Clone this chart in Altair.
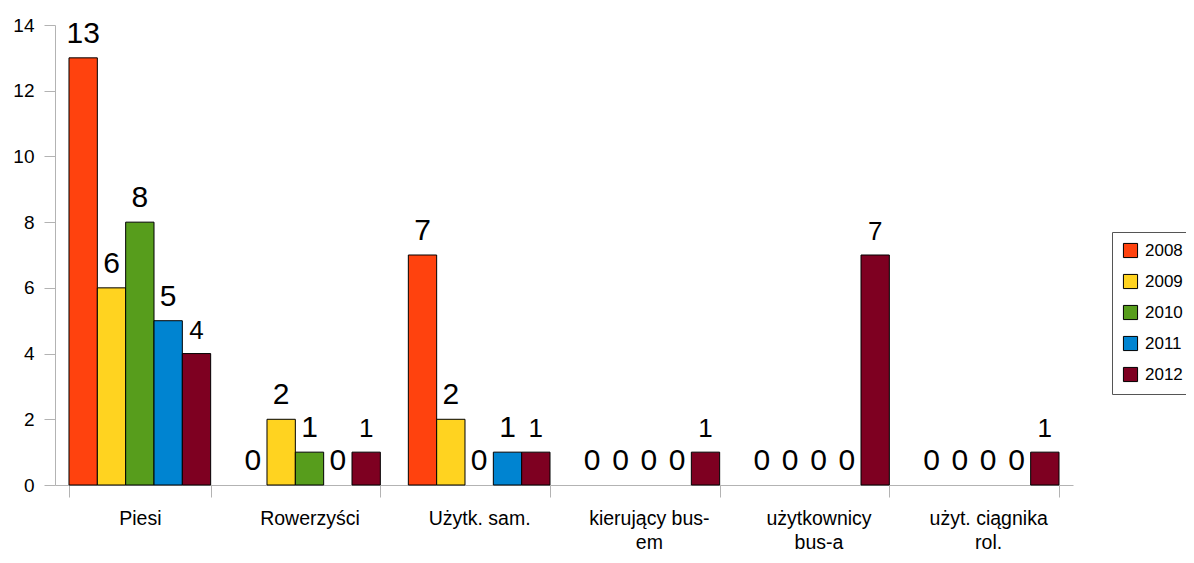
import altair as alt
import pandas as pd

categories = ["Piesi", "Rowerzyści", "Użytk. sam.", "kierujący bus-\nem",
              "użytkownicy\nbus-a", "użyt. ciągnika\nrol."]
years = ["2008", "2009", "2010", "2011", "2012"]
v2008 = [13, 0, 7, 0, 0, 0]
v2009 = [6, 2, 2, 0, 0, 0]
v2010 = [8, 1, 0, 0, 0, 0]
v2011 = [5, 0, 1, 0, 0, 0]
v2012 = [4, 1, 1, 1, 7, 1]
colors = ["#ff420e", "#ffd320", "#579d1c", "#0084d1", "#7e0021"]
y_ticks = [0, 2, 4, 6, 8, 10, 12, 14]

series = [v2008, v2009, v2010, v2011, v2012]
rows = []
for yi, yr in enumerate(years):
    for ci, cat in enumerate(categories):
        rows.append({"cat": cat, "year": yr, "value": series[yi][ci]})
df = pd.DataFrame(rows)

FONT = "Liberation Sans"

x_enc = alt.X(
    "cat:N", sort=categories, title=None,
    scale=alt.Scale(paddingInner=0.165, paddingOuter=0.0825),
    axis=alt.Axis(
        labelAngle=0, labelExpr="split(datum.label, '\\n')",
        labelFont=FONT, labelFontSize=19.5, labelColor="#000",
        labelLineHeight=24, labelPadding=12, labelBaseline="top",
        tickBand="extent", tickSize=12, tickColor="#b3b3b3",
        domainColor="#b3b3b3", grid=False,
    ),
)
xo_enc = alt.XOffset("year:N", sort=years,
                     scale=alt.Scale(domain=years, paddingInner=0, paddingOuter=0))
y_enc = alt.Y(
    "value:Q", title=None,
    scale=alt.Scale(domain=[0, 14], nice=False),
    axis=alt.Axis(
        values=y_ticks, labelFont=FONT, labelFontSize=19, labelColor="#000",
        labelPadding=10, tickSize=11, tickColor="#b3b3b3",
        domainColor="#b3b3b3", grid=False,
    ),
)

bars = alt.Chart(df).transform_filter(alt.datum.value > 0).mark_bar(
    stroke="#000", strokeWidth=1
).encode(
    x=x_enc, xOffset=xo_enc, y=y_enc,
    color=alt.Color(
        "year:N", sort=years,
        scale=alt.Scale(domain=years, range=colors),
        legend=alt.Legend(
            title=None, orient="none", legendX=1057, legendY=207,
            symbolType="square", symbolSize=200, symbolStrokeColor="#000",
            symbolStrokeWidth=1, labelFont=FONT, labelFontSize=17,
            labelColor="#000", labelOffset=6, rowPadding=12, padding=10,
            strokeColor="#555", fillColor="#fff",
        ),
    ),
)

labels = alt.Chart(df).mark_text(
    font=FONT, baseline="alphabetic", align="center", dy=-15, color="#000"
).encode(
    x=alt.X("cat:N", sort=categories),
    xOffset=alt.XOffset("year:N", sort=years),
    y=alt.Y("value:Q"),
    text=alt.Text("value:Q"),
    size=alt.condition(alt.datum.year == "2012", alt.value(26), alt.value(30)),
)

chart = alt.layer(bars, labels).properties(
    width=1018, height=460,
    autosize=alt.AutoSizeParams(type="none"),
    padding={"left": 47, "top": 17, "right": 113, "bottom": 70},
).configure_view(stroke=None)

chart.save("out.html", embed_options={"renderer": "svg", "actions": False})
